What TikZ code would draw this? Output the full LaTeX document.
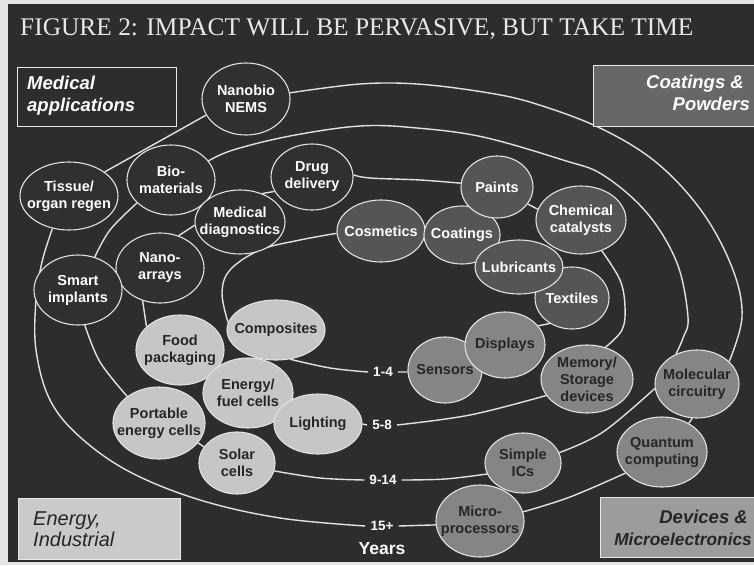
\documentclass[tikz,border=0pt]{standalone}
\usepackage{fontspec}
\setmainfont{Liberation Sans}
\newfontfamily\titlefont{Liberation Serif}
\usetikzlibrary{shapes.geometric}
\pgfdeclarelayer{back}
\pgfdeclarelayer{links}
\pgfsetlayers{back,links,main}
\definecolor{pagec}{HTML}{E4E4E4}
\definecolor{bgc}{HTML}{2D2D2D}
\definecolor{medc}{HTML}{303030}
\definecolor{coac}{HTML}{555555}
\definecolor{devc}{HTML}{858585}
\definecolor{enec}{HTML}{C6C6C6}
\definecolor{linec}{HTML}{E2E2E2}
\definecolor{dtxt}{HTML}{262626}
\definecolor{titlec}{HTML}{E8E8E8}
\definecolor{coabox}{HTML}{676767}
\definecolor{devbox}{HTML}{9C9C9C}
\definecolor{enebox}{HTML}{CACACA}
\newcommand\bubfont{\fontsize{14.5}{17}\selectfont\bfseries}
\newcommand\boxfont{\fontsize{18.5}{22}\selectfont\bfseries\itshape}
\newcommand\bub[7]{\node[#2, minimum width=#5pt, minimum height=#6pt] (#1) at (#3,#4) {};
  \node[#2txt] (#1t) at (#1.center) {#7};}
\tikzset{
  ring/.style={draw=linec, line width=1.4pt},
  shapebase/.style={ellipse, draw=linec, line width=1.1pt, inner sep=0pt},
  med/.style={shapebase, fill=medc},
  coa/.style={shapebase, fill=coac},
  dev/.style={shapebase, fill=devc},
  ene/.style={shapebase, fill=enec},
  medtxt/.style={text=white, font=\bubfont, align=center, inner sep=0pt},
  coatxt/.style={text=white, font=\bubfont, align=center, inner sep=0pt},
  devtxt/.style={text=dtxt, font=\bubfont, align=center, inner sep=0pt},
  enetxt/.style={text=dtxt, font=\bubfont, align=center, inner sep=0pt},
  yearlbl/.style={text=white, font=\fontsize{13.5}{15}\selectfont\bfseries, inner xsep=5pt, inner ysep=1pt},
  cbox/.style={draw=linec!80, line width=0.8pt, anchor=north west, inner sep=0pt},
  cboxtxt/.style={inner sep=0pt, font=\boxfont},
}
\begin{document}
\begin{tikzpicture}[x=1pt,y=-1pt]
\useasboundingbox (0,0) rectangle (754,565);
\begin{pgfonlayer}{back}
\fill[pagec] (0,0) rectangle (754,565);
\fill[bgc] (8,4) rectangle (754,562);
\end{pgfonlayer}

\node[anchor=base west, text=titlec, font=\titlefont\fontsize{25.4}{30}\selectfont, inner sep=0pt] (title) at (20,35) {FIGURE 2: IMPACT WILL BE PERVASIVE, BUT TAKE TIME};

% corner boxes
\node[cbox, fill=bgc, minimum width=159pt, minimum height=59pt] (medbox) at (17,67) {};
\node[cboxtxt, text=white, anchor=base west] (medt1) at (27,89) {Medical};
\node[cboxtxt, text=white, anchor=base west] (medt2) at (27,111) {applications};

\node[cbox, fill=coabox, minimum width=165pt, minimum height=61pt] (coabx) at (593,65) {};
\node[cboxtxt, text=white, anchor=base east] (coat1) at (744,88) {Coatings \&};
\node[cboxtxt, text=white, anchor=base east] (coat2) at (750,110) {Powders};

\node[cbox, fill=enebox, minimum width=162pt, minimum height=61pt] (enebx) at (18,498) {};
\node[inner sep=0pt, font=\fontsize{20}{22}\selectfont\itshape, text=dtxt, anchor=base west] (enet1) at (33,525) {Energy,};
\node[inner sep=0pt, font=\fontsize{20}{22}\selectfont\itshape, text=dtxt, anchor=base west] (enet2) at (33,546) {Industrial};

\node[cbox, fill=devbox, minimum width=160pt, minimum height=60pt] (devbx) at (600,497) {};
\node[cboxtxt, text=dtxt, anchor=base east] (devt1) at (748,523) {Devices \&};
\node[inner sep=0pt, font=\fontsize{17.3}{20}\selectfont\bfseries\itshape, text=dtxt, anchor=base east] (devt2) at (752,545) {Microelectronics};

% year labels
\node[yearlbl] (l14) at (383,372) {1-4};
\node[yearlbl] (l58) at (382,425) {5-8};
\node[yearlbl] (l914) at (383,480) {9-14};
\node[yearlbl] (l15) at (382,526) {15+};
\node[text=white, font=\fontsize{17.5}{20}\selectfont\bfseries, inner sep=0pt] (years) at (382,549) {Years};

% medical bubbles
\bub{nano}{med}{246}{99}{88}{72}{Nanobio\\NEMS}
\bub{tissue}{med}{69}{196}{98}{68}{Tissue/\\organ regen}
\bub{bio}{med}{171}{180}{88}{70}{Bio-\\materials}
\bub{drug}{med}{312}{177}{82}{66}{Drug\\delivery}
\bub{meddiag}{med}{240}{222}{90}{64}{Medical\\diagnostics}
\bub{nanoarr}{med}{160}{268}{88}{70}{Nano-\\arrays}
\bub{smart}{med}{78}{290}{88}{70}{Smart\\implants}

% coatings bubbles
\bub{cosm}{coa}{381}{231}{88}{62}{Cosmetics}
\bub{coat}{coa}{462}{235}{76}{58}{Coatings}
\bub{paints}{coa}{497}{187}{72}{62}{Paints}
\bub{chem}{coa}{581}{220}{90}{68}{Chemical\\catalysts}
\bub{text}{coa}{572}{298}{74}{62}{Textiles}
\bub{lubr}{coa}{519}{267}{88}{54}{Lubricants}

% devices bubbles
\bub{sens}{dev}{445}{370}{74}{66}{Sensors}
\bub{disp}{dev}{505}{345}{80}{66}{Displays}
\bub{mem}{dev}{587}{379}{92}{68}{Memory/\\Storage\\devices}
\bub{mol}{dev}{697}{384}{84}{68}{Molecular\\circuitry}
\bub{quant}{dev}{662}{452}{90}{70}{Quantum\\computing}
\bub{simple}{dev}{523}{463}{76}{60}{Simple\\ICs}
\bub{micro}{dev}{480}{521}{88}{72}{Micro-\\processors}

% energy bubbles
\bub{food}{ene}{180}{350}{88}{70}{Food\\packaging}
\bub{comp}{ene}{276}{330}{98}{60}{Composites}
\bub{energy}{ene}{248}{393}{90}{70}{Energy/\\fuel cells}
\bub{light}{ene}{318}{424}{88}{60}{Lighting}
\bub{port}{ene}{159}{423}{92}{72}{Portable\\energy cells}
\bub{solar}{ene}{237}{463}{76}{62}{Solar\\cells}

\begin{pgfonlayer}{links}
% ring 1 (1-4)
\draw[ring] plot[smooth, tension=0.6] coordinates {(comp.296) (330,368) (l14.west)};
\draw[ring] plot[smooth, tension=0.6] coordinates {(comp.171) (222,293) (230,270) (260,250) (300,240) (cosm.183)};
\draw[ring] (text.229) -- (disp.30);
\draw[ring] (sens.183) -- (l14.east);
% ring 2 (5-8)
\draw[ring] (light.0) -- (l58.west);
\draw[ring] (food.145) -- (nanoarr.242);
\draw[ring] (nanoarr.60) -- (meddiag.184);
\draw[ring] (meddiag.52) -- (drug.201);
\draw[ring] plot[smooth, tension=0.6] coordinates {(drug.3) (370,178) (420,180) (paints.174)};
\draw[ring] (paints.-29) -- (chem.166);
\draw[ring] plot[smooth, tension=0.6] coordinates {(chem.-56) (620,280) (625,307) (622,330) (mem.60)};
\draw[ring] plot[smooth, tension=0.6] coordinates {(mem.202) (470,415) (l58.east)};
% ring 3 (9-14)
\draw[ring] plot[smooth, tension=0.6] coordinates {(solar.-12) (320,478) (l914.west)};
\draw[ring] (port.-27) -- (solar.154);
\draw[ring] plot[smooth, tension=0.6] coordinates {(port.140) (100,362) (smart.281)};
\draw[ring] plot[smooth, tension=0.6] coordinates {(smart.63) (110,230) (bio.214)};
\draw[ring] plot[smooth, tension=0.6] coordinates {(bio.27) (233,150) (290,136) (360,126) (417,128) (483,137) (563,160) (603,175) (647,213) (677,263) (688,317) (683,338) (mol.125)};
\draw[ring] plot[smooth, tension=0.6] coordinates {(mol.186) (603,432) (simple.16)};
\draw[ring] plot[smooth, tension=0.6] coordinates {(simple.197) (445,479) (l914.east)};
% ring 4 (15+)
\draw[ring] plot[smooth, tension=0.6] coordinates {(l15.west) (280,518) (200,500) (130,472) (80,437) (50,400) (36,350) (36,300) (42,262) (tissue.243)};
\draw[ring] (tissue.34) -- (nano.202);
\draw[ring] plot[smooth, tension=0.6] coordinates {(nano.8) (360,84) (417,84) (483,92) (533,103) (600,128) (657,163) (703,213) (733,270) (742,317) (mol.35)};
\draw[ring] (mol.262) -- (quant.47);
\draw[ring] plot[smooth, tension=0.6] coordinates {(quant.210) (570,497) (micro.12)};
\draw[ring] (micro.185) -- (l15.east);
\end{pgfonlayer}
\end{tikzpicture}
\end{document}
